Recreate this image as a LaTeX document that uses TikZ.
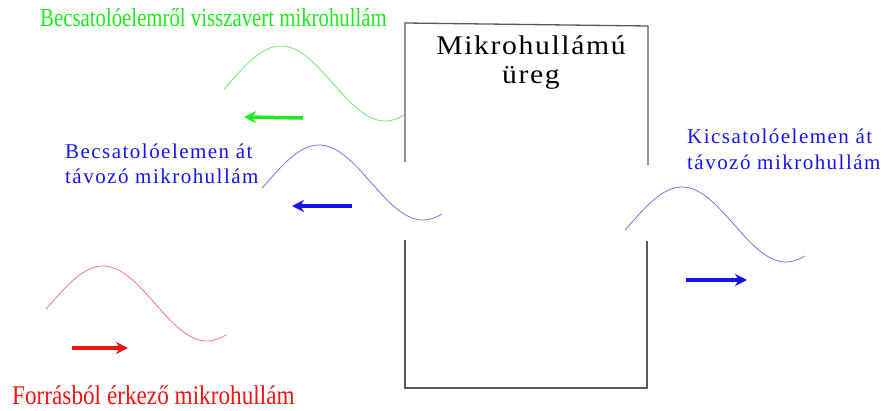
\documentclass[tikz,border=0pt]{standalone}
\usepackage{fontspec}
\setmainfont{Liberation Serif}
\newfontfamily\narrowfont[FakeStretch=0.8]{Liberation Serif}
\newfontfamily\sourcefont[FakeStretch=0.86]{Liberation Serif}
\newfontfamily\widefont[LetterSpace=7]{Liberation Serif}
\newfontfamily\cavityfont[LetterSpace=6,FakeStretch=1.1]{Liberation Serif}
\usetikzlibrary{arrows.meta}

\definecolor{reflgreen}{RGB}{30,235,30}
\definecolor{wavegreen}{RGB}{110,235,110}
\definecolor{outblue}{RGB}{20,20,235}
\definecolor{waveblue}{RGB}{125,110,245}
\definecolor{inred}{RGB}{240,20,20}
\definecolor{wavered}{RGB}{250,120,120}

\begin{document}
\begin{tikzpicture}[x=1pt, y=-1pt,
    wall/.style={draw=black!65, line width=1.3pt},
    flow/.style={line width=3.5pt, -{Stealth[length=12pt,width=12pt]}},
    mwave/.pic={\draw[line width=0.8pt, pic actions] plot[domain=0:180, samples=60, smooth] (\x,{-9.5-37.5*cos(1.7308*(\x-57))});}]
    \useasboundingbox (0,0) rectangle (884,411);

    \coordinate (tl) at (405,23);
    \coordinate (tr) at (648,26);
    \coordinate (bl) at (405,388);
    \coordinate (br) at (647,388);
    \coordinate (lgapt) at (405,162);
    \coordinate (lgapb) at (405,240);
    \coordinate (rgapt) at (648,165);
    \coordinate (rgapb) at (647,241);
    \draw[wall] (lgapt) -- (tl) -- (tr) -- (rgapt);
    \draw[wall] (lgapb) -- (bl) -- (br) -- (rgapb);
    \node[font=\cavityfont\fontsize{27}{29}\selectfont, align=center, anchor=north, inner sep=0] (cavity) at (531,36) {Mikrohullámú\\üreg};

    \pic[wavegreen] at (224,93) {mwave};
    \pic[waveblue] at (262,192) {mwave};
    \pic[wavered] at (46,313) {mwave};
    \pic[waveblue] at (625,234) {mwave};

    \coordinate (reflA) at (303,118);
    \coordinate (reflB) at (244,117);
    \coordinate (backA) at (352,206);
    \coordinate (backB) at (292,206);
    \coordinate (srcA) at (72,348);
    \coordinate (srcB) at (128,348);
    \coordinate (outA) at (686,280);
    \coordinate (outB) at (747,280);
    \draw[flow, reflgreen] (reflA) -- (reflB);
    \draw[flow, outblue] (backA) -- (backB);
    \draw[flow, inred] (srcA) -- (srcB);
    \draw[flow, outblue] (outA) -- (outB);

    \node[font=\narrowfont\fontsize{26}{30}\selectfont, text=reflgreen, anchor=base west, inner sep=0] (refl) at (40,27) {Becsatolóelemről visszavert mikrohullám};
    \node[font=\sourcefont\fontsize{27}{31}\selectfont, text=inred, anchor=base west, inner sep=0] (src) at (12,405) {Forrásból érkező mikrohullám};
    \node[font=\widefont\fontsize{21}{25}\selectfont, text=outblue, align=left, anchor=north west, inner sep=0] (back) at (65,143.5) {Becsatolóelemen át\\távozó mikrohullám};
    \node[font=\widefont\fontsize{21}{26}\selectfont, text=outblue, align=left, anchor=north west, inner sep=0] (out) at (687,128.5) {Kicsatolóelemen át\\távozó mikrohullám};
  \end{tikzpicture}
\end{document}
